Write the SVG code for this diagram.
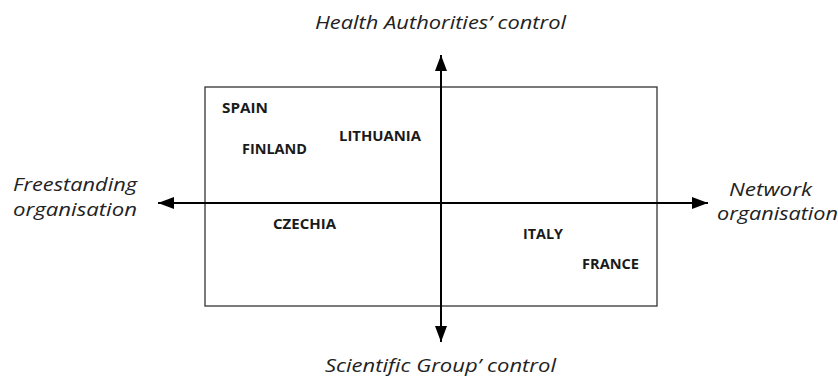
<svg xmlns="http://www.w3.org/2000/svg" width="838" height="377" viewBox="0 0 838 377">
<style>
.axis{fill:#222;font-family:"Open Sans","DejaVu Sans",sans-serif;font-style:italic;font-size:18.5px}
.country{fill:#1a1a1a;font-family:"Open Sans","DejaVu Sans",sans-serif;font-weight:bold;font-size:14.5px}
.line{stroke:#000;stroke-width:2;fill:none}
</style>
<defs>
<marker id="ah" viewBox="0 0 16 12" refX="16" refY="6" markerWidth="16" markerHeight="12" markerUnits="userSpaceOnUse" orient="auto-start-reverse">
<path d="M0,0 L16,6 L0,12 Z" fill="#000"/>
</marker>
</defs>
<rect width="838" height="377" fill="#fff"/>
<g id="quadrant-box">
<rect x="205" y="87" width="452" height="219" fill="none" stroke="#333" stroke-width="1.3"/>
</g>
<g id="connectors">
<line class="line" x1="441" y1="342" x2="441" y2="55" marker-start="url(#ah)" marker-end="url(#ah)"/>
<line class="line" x1="158" y1="203" x2="708" y2="203" marker-start="url(#ah)" marker-end="url(#ah)"/>
</g>
<g id="label-top"><text class="axis" x="315" y="29" textLength="251" lengthAdjust="spacingAndGlyphs">Health Authorities’ control</text></g>
<g id="label-bottom"><text class="axis" x="325" y="372" textLength="231" lengthAdjust="spacingAndGlyphs">Scientific Group’ control</text></g>
<g id="label-left">
<text class="axis" x="13" y="191" textLength="124" lengthAdjust="spacingAndGlyphs">Freestanding</text>
<text class="axis" x="13" y="216" textLength="124" lengthAdjust="spacingAndGlyphs">organisation</text>
</g>
<g id="label-right">
<text class="axis" x="729" y="196" textLength="83" lengthAdjust="spacingAndGlyphs">Network</text>
<text class="axis" x="717" y="220" textLength="121" lengthAdjust="spacingAndGlyphs">organisation</text>
</g>
<g id="spain"><text class="country" x="222" y="113" textLength="46" lengthAdjust="spacingAndGlyphs">SPAIN</text></g>
<g id="finland"><text class="country" x="242" y="154" textLength="65" lengthAdjust="spacingAndGlyphs">FINLAND</text></g>
<g id="lithuania"><text class="country" x="339" y="141" textLength="82" lengthAdjust="spacingAndGlyphs">LITHUANIA</text></g>
<g id="czechia"><text class="country" x="273" y="229" textLength="63" lengthAdjust="spacingAndGlyphs">CZECHIA</text></g>
<g id="italy"><text class="country" x="523" y="239" textLength="40" lengthAdjust="spacingAndGlyphs">ITALY</text></g>
<g id="france"><text class="country" x="582" y="269" textLength="57" lengthAdjust="spacingAndGlyphs">FRANCE</text></g>
</svg>
